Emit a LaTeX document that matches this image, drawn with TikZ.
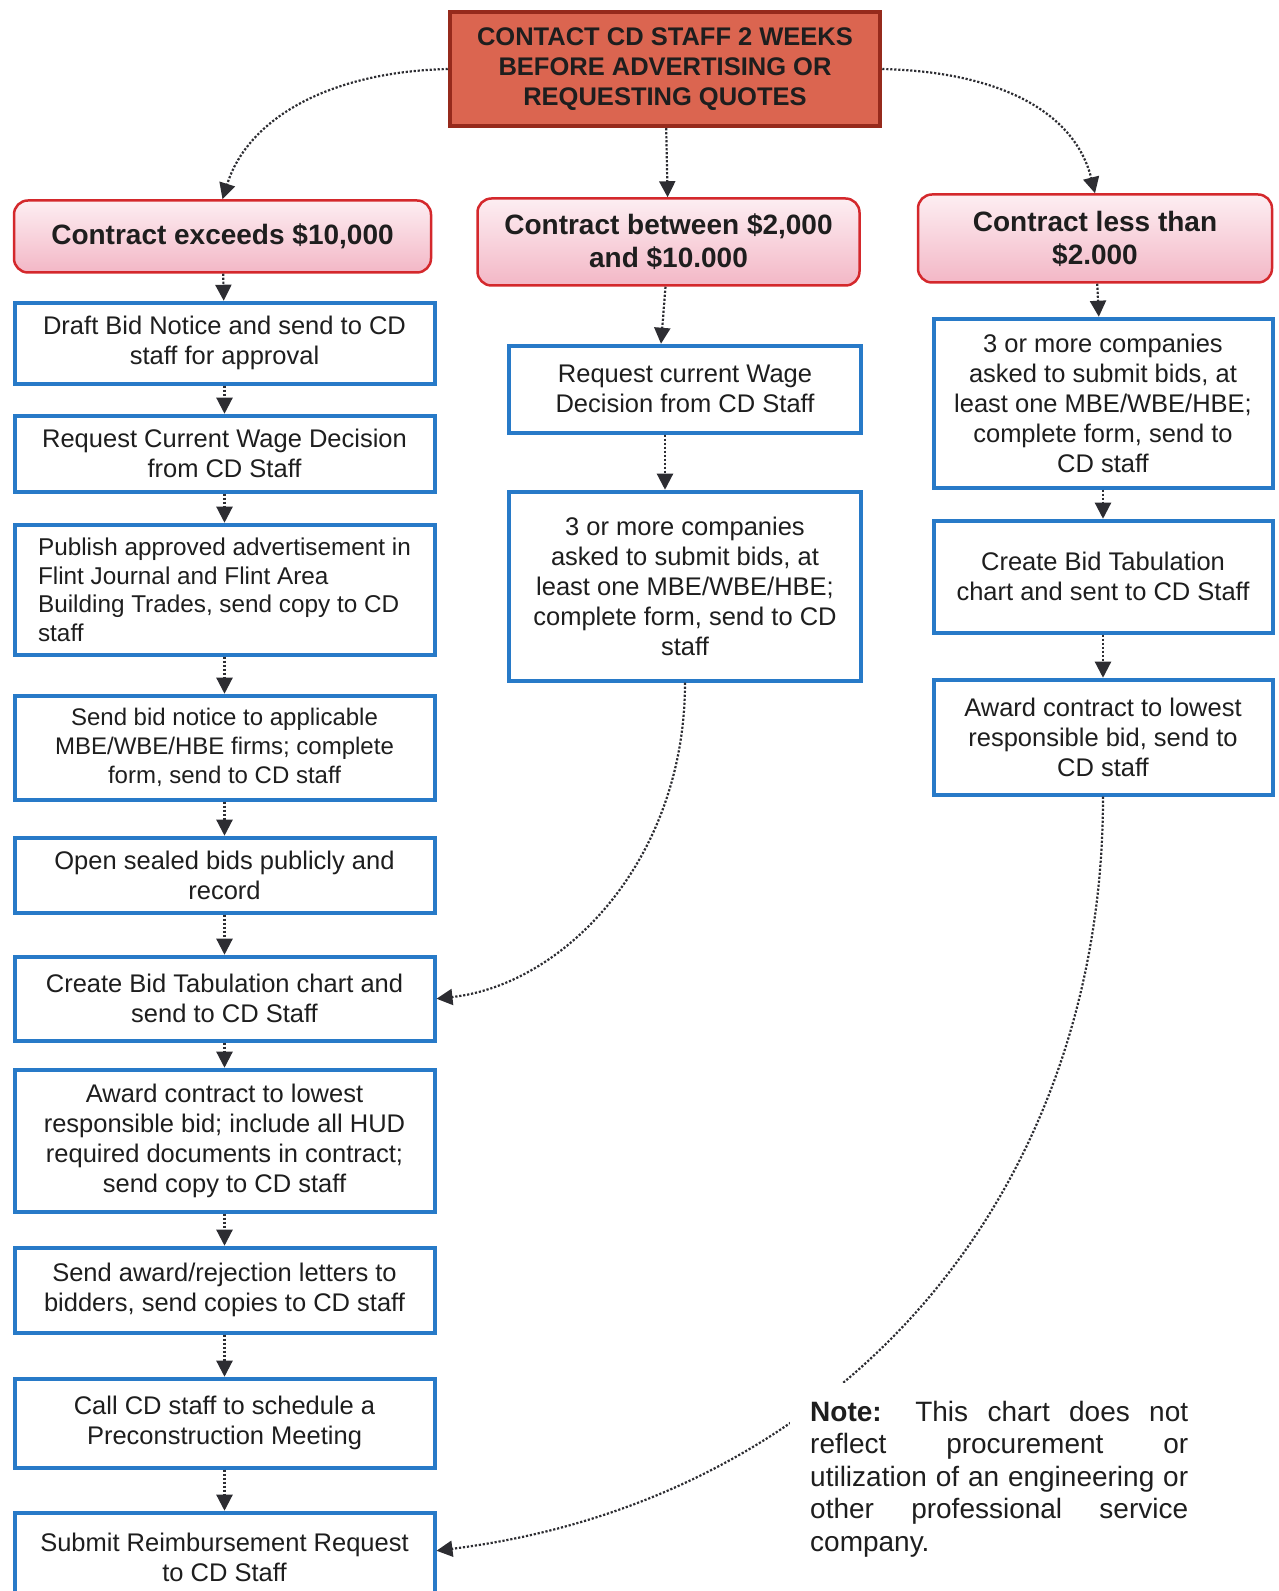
\documentclass[tikz,border=0pt]{standalone}
\usepackage{fontspec}
\setmainfont{Liberation Sans}
\usetikzlibrary{positioning,arrows.meta}
\definecolor{topfill}{RGB}{219,101,80}
\definecolor{topline}{RGB}{150,42,28}
\definecolor{caseline}{RGB}{212,40,44}
\definecolor{casetop}{RGB}{253,238,242}
\definecolor{casebottom}{RGB}{243,183,198}
\definecolor{stepline}{RGB}{40,122,200}
\definecolor{flowgray}{RGB}{45,45,50}
\definecolor{textdark}{RGB}{30,30,30}
\begin{document}
\begin{tikzpicture}[x=1pt, y=1pt, node distance=30pt, text=textdark]
	\tikzstyle{topbox} = [rectangle, draw=topline, fill=topfill, line width=4.5pt, minimum width=430pt, minimum height=114pt, align=center, font=\bfseries\fontsize{25.5}{30}\selectfont]
	\tikzstyle{casebox} = [rectangle, rounded corners=14pt, draw=caseline, line width=2.5pt, top color=casetop, bottom color=casebottom, align=center, font=\bfseries\fontsize{28}{33}\selectfont]
	\tikzstyle{stepbox} = [rectangle, draw=stepline, line width=4pt, fill=white, align=center, inner sep=0pt, font=\fontsize{25.5}{30}\selectfont]
	\tikzstyle{stepL} = [stepbox, minimum width=420pt]
	\tikzstyle{stepM} = [stepbox, minimum width=352pt]
	\tikzstyle{stepR} = [stepbox, minimum width=339pt]
	\tikzstyle{notebox} = [fill=white, inner xsep=20pt, inner ysep=18pt, text width=378pt, align=justify, font=\fontsize{28}{32.5}\selectfont]
	\tikzstyle{flow} = [draw=flowgray, line width=2.2pt, dash pattern=on 2.2pt off 1.8pt, -{Triangle[length=16pt, width=16pt]}]
	\useasboundingbox (0,0) rectangle (1278,1591);

	% start and the three cases
	\node (top) [topbox] at (665,1522) {CONTACT CD STAFF 2 WEEKS\\BEFORE ADVERTISING OR\\REQUESTING QUOTES};
	\node (midhead) [casebox, minimum width=382pt, minimum height=87pt, below=69pt of top, xshift=3.5pt] {Contract between \$2,000\\and \$10.000};
	\node (lefthead) [casebox, minimum width=417pt, minimum height=72pt, left=44pt of midhead, yshift=5.5pt] {Contract exceeds \$10,000};
	\node (righthead) [casebox, minimum width=354pt, minimum height=88pt, right=56pt of midhead, yshift=3.5pt] {Contract less than\\\$2.000};

	% over 10,000
	\node (l1) [stepL, minimum height=81pt, below=27pt of lefthead, xshift=2pt] {Draft Bid Notice and send to CD\\staff for approval};
	\node (l2) [stepL, minimum height=76pt, below=28pt of l1] {Request Current Wage Decision\\from CD Staff};
	\node (l3) [stepL, minimum height=130pt, below=29pt of l2, align=left, font=\fontsize{24.3}{28.5}\selectfont] {Publish approved advertisement in\\Flint Journal and Flint Area\\Building Trades, send copy to CD\\staff};
	\node (l4) [stepL, minimum height=104pt, below=37pt of l3, font=\fontsize{24}{29}\selectfont] {Send bid notice to applicable\\MBE/WBE/HBE firms; complete\\form, send to CD staff};
	\node (l5) [stepL, minimum height=75pt, below=34pt of l4] {Open sealed bids publicly and\\record};
	\node (lcreate) [stepL, minimum height=84pt, below=40pt of l5] {Create Bid Tabulation chart and\\send to CD Staff};
	\node (l7) [stepL, minimum height=142pt, below=25pt of lcreate] {Award contract to lowest\\responsible bid; include all HUD\\required documents in contract;\\send copy to CD staff};
	\node (l8) [stepL, minimum height=85pt, below=32pt of l7] {Send award/rejection letters to\\bidders, send copies to CD staff};
	\node (l9) [stepL, minimum height=89pt, below=42pt of l8] {Call CD staff to schedule a\\Preconstruction Meeting};
	\node (lsubmit) [stepL, minimum height=90pt, below=41pt of l9] {Submit Reimbursement Request\\to CD Staff};

	% 2,000 to 10,000
	\node (midwage) [stepM, minimum height=87pt, below=57pt of midhead, xshift=16.5pt] {Request current Wage\\Decision from CD Staff};
	\node (midbids) [stepM, minimum height=189pt, below=55pt of midwage] {3 or more companies\\asked to submit bids, at\\least one MBE/WBE/HBE;\\complete form, send to CD\\staff};

	% under 2,000
	\node (rbids) [stepR, minimum height=169pt, below=33pt of righthead, xshift=8pt] {3 or more companies\\asked to submit bids, at\\least one MBE/WBE/HBE;\\complete form, send to\\CD staff};
	\node (rtab) [stepR, minimum height=112pt, below=29pt of rbids] {Create Bid Tabulation\\chart and sent to CD Staff};
	\node (raward) [stepR, minimum height=115pt, below=43pt of rtab] {Award contract to lowest\\responsible bid, send to\\CD staff};

	% connectors
	\draw [flow] (top) -- (midhead);
	\draw [flow] (top.west) .. controls +(-120,-3) and +(25,80) .. (lefthead.north);
	\draw [flow] (top.east) .. controls +(120,-3) and +(-20,80) .. (righthead.north);
	\foreach \a/\b in {lefthead/l1, l1/l2, l2/l3, l3/l4, l4/l5, l5/lcreate, lcreate/l7, l7/l8, l8/l9, l9/lsubmit, righthead/rbids, rbids/rtab, rtab/raward}
		\draw [flow] (\a) -- (\b);
	\draw [flow] ([xshift=-3pt]midhead.south) -- ([xshift=-24pt]midwage.north);
	\draw [flow] ([xshift=-20pt]midwage.south) -- ([xshift=-20pt]midbids.north);
	\draw [flow] (midbids.south) .. controls +(0,-177) and +(128,14) .. (lcreate.east);
	\draw [flow] (raward.south) .. controls +(0,-403) and +(400,50) .. ([yshift=7pt]lsubmit.east);

	% note over the long connector
	\node (note) [notebox, anchor=north west] at (790,208) {\textbf{Note:} This chart does not\linebreak reflect procurement or\linebreak utilization of an engineering or\linebreak other professional service\linebreak company.};
\end{tikzpicture}
\end{document}
